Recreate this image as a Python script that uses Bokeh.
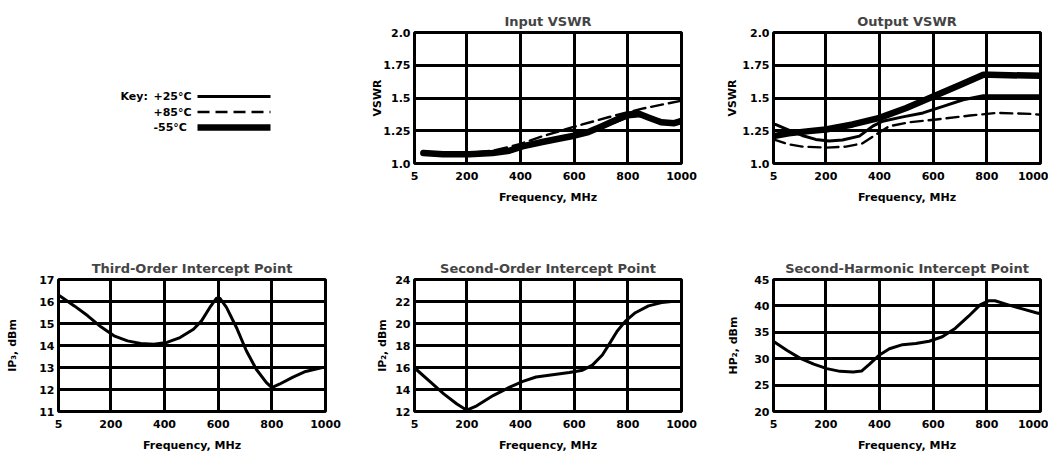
from bokeh.plotting import figure
from bokeh.layouts import row, column
from bokeh.models import Range1d, FixedTicker
from bokeh.embed import file_html
from bokeh.resources import INLINE
from bokeh.core.properties import value

FONT = "DejaVu Sans"

# ---------------- data ----------------
freq_ticks = [5, 200, 400, 600, 800, 1000]
freq_labels = ["5", "200", "400", "600", "800", "1000"]

key_labels = ["+25°C", "+85°C", "-55°C"]

# Input VSWR
in_m55_f = [38, 111, 210, 296, 358, 407, 481, 542, 604, 653, 702, 751, 800, 837, 874, 924, 973, 1000]
in_m55 = [1.08, 1.07, 1.07, 1.08, 1.097, 1.131, 1.164, 1.189, 1.214, 1.24, 1.283, 1.328, 1.373, 1.383, 1.353, 1.315, 1.308, 1.325]
in_p25_f = [38, 111, 210, 296, 358, 407, 481, 542, 604, 653, 702, 751, 800, 850, 900, 950, 1000]
in_p25 = [1.08, 1.07, 1.07, 1.08, 1.097, 1.131, 1.164, 1.189, 1.214, 1.24, 1.275, 1.315, 1.355, 1.365, 1.34, 1.315, 1.325]
in_p85_f = [38, 111, 234, 300, 358, 400, 481, 604, 727, 850, 1000]
in_p85 = [1.08, 1.075, 1.085, 1.10, 1.126, 1.15, 1.207, 1.283, 1.353, 1.417, 1.48]

# Output VSWR
out_m55_f = [5, 62, 137, 200, 300, 400, 500, 600, 700, 787, 812, 1000]
out_m55 = [1.209, 1.23, 1.247, 1.26, 1.298, 1.348, 1.424, 1.512, 1.60, 1.677, 1.677, 1.669]
out_p25_f = [12, 62, 112, 162, 212, 262, 325, 375, 412, 487, 562, 637, 712, 787, 1000]
out_p25 = [1.298, 1.255, 1.214, 1.184, 1.171, 1.179, 1.209, 1.285, 1.323, 1.356, 1.386, 1.436, 1.487, 1.517, 1.517]
out_p85_f = [5, 62, 112, 200, 275, 337, 387, 437, 512, 612, 737, 837, 962, 1000]
out_p85 = [1.184, 1.146, 1.129, 1.121, 1.129, 1.154, 1.222, 1.285, 1.315, 1.336, 1.366, 1.386, 1.379, 1.372]

# Third-order intercept point
ip3_f = [9, 64, 114, 163, 212, 262, 311, 360, 409, 458, 508, 538, 569, 594, 606, 631, 668, 705, 742, 779, 800, 828, 877, 926, 988, 1000]
ip3 = [16.26, 15.8, 15.35, 14.85, 14.44, 14.21, 14.09, 14.06, 14.14, 14.36, 14.74, 15.12, 15.73, 16.15, 16.15, 15.73, 14.82, 13.76, 12.92, 12.32, 12.09, 12.24, 12.55, 12.82, 13.0, 13.0]

# Second-order intercept point
ip2_f = [15, 65, 114, 163, 200, 237, 298, 360, 409, 458, 520, 582, 631, 668, 705, 729, 760, 791, 828, 877, 926, 963, 985]
ip2 = [15.75, 14.68, 13.6, 12.68, 12.12, 12.52, 13.45, 14.22, 14.74, 15.14, 15.35, 15.54, 15.75, 16.22, 17.14, 18.06, 19.29, 20.22, 20.98, 21.6, 21.9, 22.0, 22.0]

# Second-harmonic intercept point
hp2_f = [7, 56, 105, 155, 204, 253, 302, 333, 363, 400, 437, 486, 535, 585, 634, 683, 732, 775, 806, 830, 880, 929, 984, 1000]
hp2 = [33.2, 31.56, 30.06, 28.96, 28.12, 27.6, 27.47, 27.66, 28.96, 30.71, 31.88, 32.66, 32.86, 33.31, 34.16, 35.78, 38.05, 40.2, 40.97, 40.97, 40.2, 39.48, 38.7, 38.5]

# ---------------- styles ----------------
STYLE = {
    "+25°C": dict(line_width=3, line_dash="solid"),
    "+85°C": dict(line_width=2.4, line_dash="12 6"),
    "-55°C": dict(line_width=6.5, line_dash="solid"),
}

ROW1 = dict(top=32, frame=131, bottom=84)
ROW2 = dict(top=32, frame=132, bottom=38)
COLS = [dict(left=58, frame=267, right=32), dict(left=57, frame=267, right=35), dict(left=57, frame=267, right=8)]


def base_fig(c, r, **kw):
    return figure(frame_width=c["frame"], frame_height=r["frame"],
                  toolbar_location=None, output_backend="svg",
                  min_border_left=c["left"], min_border_right=c["right"],
                  min_border_top=r["top"], min_border_bottom=r["bottom"], **kw)


def make_chart(col, r, title, ylabel, yr, yticks, ylabels, ystand):
    p = base_fig(COLS[col], r, x_range=Range1d(5, 1000), y_range=Range1d(*yr))
    p.title.text = title
    p.title.align = "center"
    p.title.text_font = FONT
    p.title.text_font_size = "13px"
    p.title.text_font_style = "bold"
    p.title.standoff = 7
    p.outline_line_color = "black"
    p.outline_line_width = 3
    p.xaxis.ticker = FixedTicker(ticks=freq_ticks)
    p.xaxis.major_label_overrides = dict(zip(freq_ticks, freq_labels))
    p.yaxis.ticker = FixedTicker(ticks=yticks)
    p.yaxis.major_label_overrides = dict(zip(yticks, ylabels))
    p.xaxis.axis_label = "Frequency, MHz"
    p.yaxis.axis_label = ylabel
    for ax in (p.xaxis, p.yaxis):
        ax.axis_line_color = None
        ax.major_tick_out = 0
        ax.major_tick_in = 0
        ax.minor_tick_out = 0
        ax.minor_tick_in = 0
        ax.major_label_text_font = FONT
        ax.major_label_text_font_size = "11px"
        ax.major_label_text_font_style = "bold"
        ax.major_label_text_color = "black"
        ax.axis_label_text_font = FONT
        ax.axis_label_text_font_size = "11px"
        ax.axis_label_text_font_style = "bold"
        ax.axis_label_text_color = "black"
    p.xaxis.major_label_standoff = 8
    p.xaxis.axis_label_standoff = 8
    p.yaxis.major_label_standoff = 4
    p.yaxis.axis_label_standoff = ystand
    for g in (p.xgrid, p.ygrid):
        g.grid_line_color = "black"
        g.grid_line_width = 3
        g.grid_line_alpha = 1.0
    p.xgrid.ticker = FixedTicker(ticks=freq_ticks[1:-1])
    p.ygrid.ticker = FixedTicker(ticks=yticks[1:-1])
    return p


def curve(p, xs, ys, key):
    p.line(xs, ys, line_color="black", line_join="round", line_cap="round", **STYLE[key])


vswr_ticks = [1.0, 1.25, 1.5, 1.75, 2.0]
vswr_labels = ["1.0", "1.25", "1.5", "1.75", "2.0"]

# key panel: coordinates measured from the top-left of its frame
k = base_fig(COLS[0], ROW1, x_range=Range1d(0, COLS[0]["frame"]), y_range=Range1d(ROW1["frame"], 0),
             x_axis_location=None, y_axis_location=None)
k.grid.visible = False
k.outline_line_color = None
KEY_X, KEY_Y, KEY_DY = 62, 64, 15.5
k.text([KEY_X], [KEY_Y], text=["Key:"], text_font=value(FONT), text_font_size="11px",
       text_font_style="bold", text_baseline="middle", text_align="left", text_color="black")
for i, lab in enumerate(key_labels):
    y = KEY_Y + KEY_DY * i
    k.text([KEY_X + 33], [y], text=[lab], text_font=value(FONT), text_font_size="11px",
           text_font_style="bold", text_baseline="middle", text_align="left", text_color="black")
    k.line([KEY_X + 77, KEY_X + 150], [y, y], line_color="black", **STYLE[lab])

p1 = make_chart(1, ROW1, "Input VSWR", "VSWR", (1.0, 2.0), vswr_ticks, vswr_labels, -4)
curve(p1, in_p85_f, in_p85, "+85°C")
curve(p1, in_m55_f, in_m55, "-55°C")
curve(p1, in_p25_f, in_p25, "+25°C")

p2 = make_chart(2, ROW1, "Output VSWR", "VSWR", (1.0, 2.0), vswr_ticks, vswr_labels, 0)
curve(p2, out_p85_f, out_p85, "+85°C")
curve(p2, out_m55_f, out_m55, "-55°C")
curve(p2, out_p25_f, out_p25, "+25°C")

ip3_ticks = [11, 12, 13, 14, 15, 16, 17]
p3 = make_chart(0, ROW2, "Third-Order Intercept Point", "IP₃, dBm", (11, 17), ip3_ticks,
                [str(t) for t in ip3_ticks], 17)
curve(p3, ip3_f, ip3, "+25°C")

ip2_ticks = [12, 14, 16, 18, 20, 22, 24]
p4 = make_chart(1, ROW2, "Second-Order Intercept Point", "IP₂, dBm", (12, 24), ip2_ticks,
                [str(t) for t in ip2_ticks], 3)
curve(p4, ip2_f, ip2, "+25°C")

hp2_ticks = [20, 25, 30, 35, 40, 45]
p5 = make_chart(2, ROW2, "Second-Harmonic Intercept Point", "HP₂, dBm", (20, 45), hp2_ticks,
                [str(t) for t in hp2_ticks], 11)
curve(p5, hp2_f, hp2, "+25°C")

layout = column(row(k, p1, p2), row(p3, p4, p5))

open("out.html", "w").write(file_html(layout, INLINE))
